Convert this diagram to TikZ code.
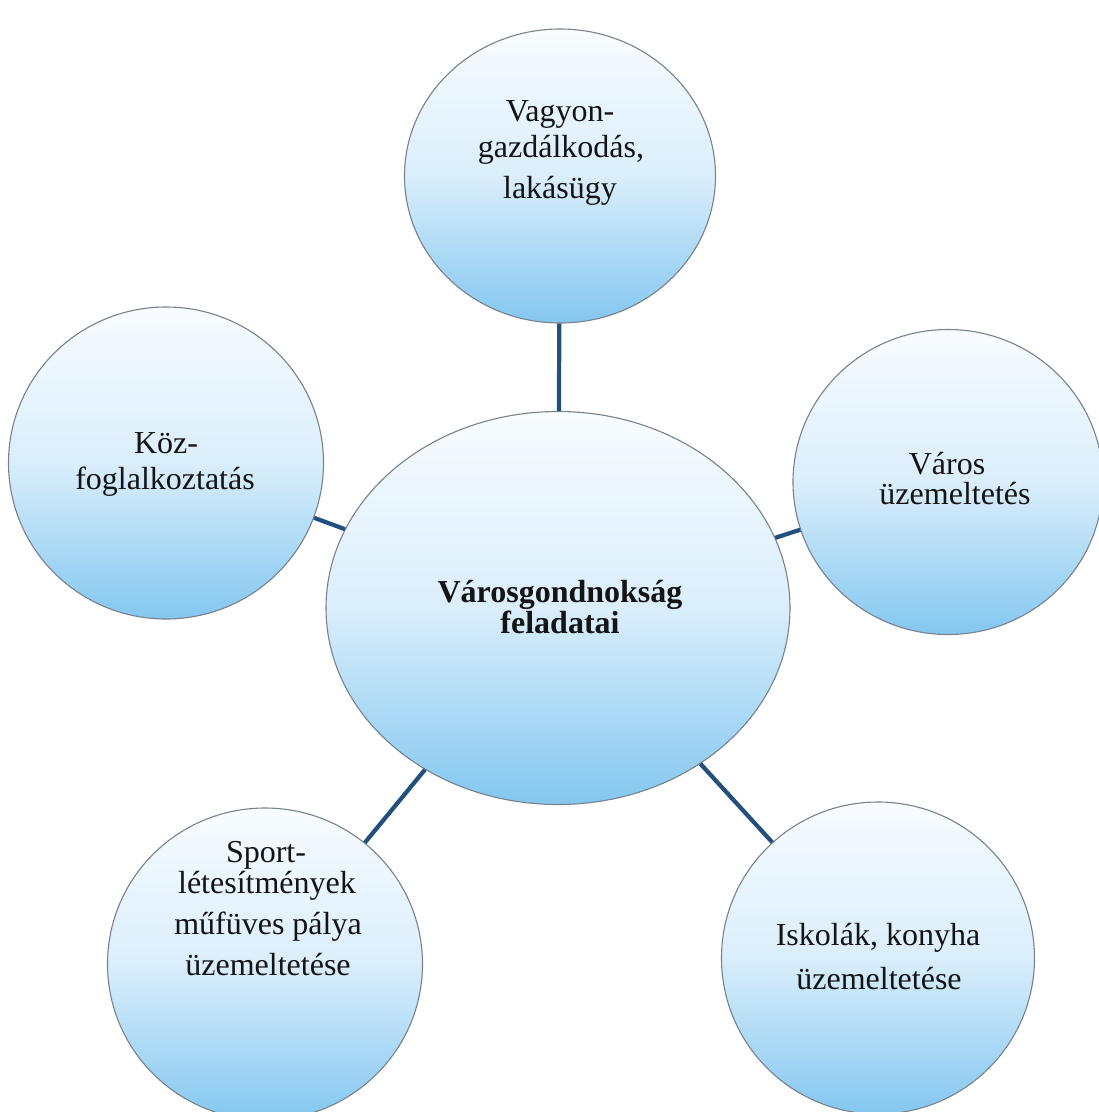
\documentclass[tikz,border=0pt]{standalone}
\usepackage{fontspec}
\setmainfont{Liberation Serif}
\usetikzlibrary{shapes.geometric}
\definecolor{topfill}{RGB}{248,252,255}
\definecolor{midfill}{RGB}{218,238,251}
\definecolor{botfill}{RGB}{132,199,240}
\definecolor{rimcol}{RGB}{120,130,140}
\definecolor{linkcol}{RGB}{34,80,125}
\definecolor{txtcol}{RGB}{20,20,20}
\tikzset{
  bubble/.style={ellipse, draw=rimcol, line width=1.1pt, inner sep=0pt,
    top color=topfill, bottom color=botfill, middle color=midfill},
  link/.style={draw=linkcol, line width=4.2pt},
  lbl/.style={anchor=base, inner sep=0pt, text=txtcol,
    font=\fontsize{32}{36}\selectfont},
  blbl/.style={lbl, font=\fontsize{32}{36}\selectfont\bfseries}
}
\begin{document}
\begin{tikzpicture}[x=1pt,y=-1pt]
\useasboundingbox (0,0) rectangle (1099,1112);
\clip (0,0) rectangle (1099,1112);
\fill[white] (0,0) rectangle (1099,1112);
% bubbles
\node[bubble, minimum width=464pt, minimum height=393pt] (core) at (558,608) {};
\node[bubble, minimum width=311pt, minimum height=294pt] (top) at (560,176) {};
\node[bubble, minimum width=315pt, minimum height=312pt] (left) at (166,463) {};
\node[bubble, minimum width=310pt, minimum height=305pt] (right) at (948,482) {};
\node[bubble, minimum width=315pt, minimum height=312pt] (bl) at (265,964) {};
\node[bubble, minimum width=313pt, minimum height=312pt] (br) at (878,958) {};
% connectors
\draw[link] (core) -- (top);
\draw[link] (core) -- (left);
\draw[link] (core) -- (right);
\draw[link] (core) -- (bl);
\draw[link] (core) -- (br);
% labels
\node[lbl] (t1) at (560,121) {Vagyon-};
\node[lbl] (t2) at (561,157) {gazdálkodás,};
\node[lbl] (t3) at (560,198) {lakásügy};
\node[lbl] (l1) at (166,453) {Köz-};
\node[lbl] (l2) at (165,489) {foglalkoztatás};
\node[lbl] (r1) at (947,474) {Város};
\node[lbl] (r2) at (955,504) {üzemeltetés};
\node[blbl] (c1) at (560,602) {Városgondnokság};
\node[blbl] (c2) at (560,633) {feladatai};
\node[lbl] (s1) at (266,862) {Sport-};
\node[lbl] (s2) at (267,893) {létesítmények};
\node[lbl] (s3) at (268,934) {műfüves pálya};
\node[lbl] (s4) at (268,975) {üzemeltetése};
\node[lbl] (i1) at (878,945) {Iskolák, konyha};
\node[lbl] (i2) at (879,989) {üzemeltetése};
\end{tikzpicture}
\end{document}
